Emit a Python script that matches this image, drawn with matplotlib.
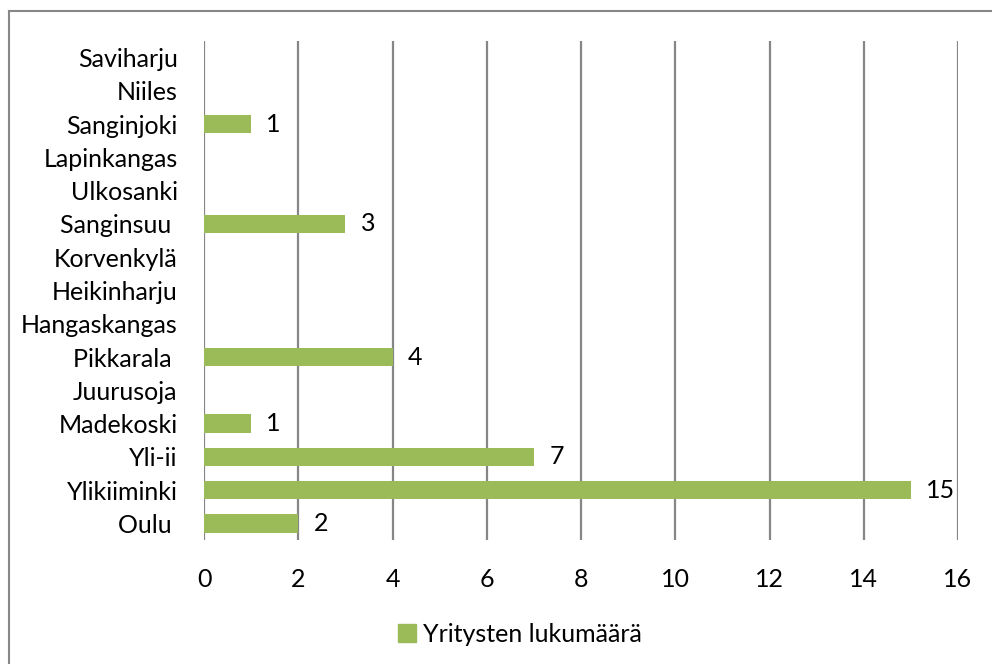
import matplotlib.pyplot as plt
from matplotlib.lines import Line2D

# ---------------------- Data ----------------------
villages = ["Oulu ", "Ylikiiminki", "Yli-ii", "Madekoski", "Juurusoja",
            "Pikkarala ", "Hangaskangas", "Heikinharju", "Korvenkylä",
            "Sanginsuu ", "Ulkosanki", "Lapinkangas", "Sanginjoki",
            "Niiles", "Saviharju"]
counts = [2, 15, 7, 1, 0, 4, 0, 0, 0, 3, 0, 0, 1, 0, 0]
series_name = "Yritysten lukumäärä"
x_ticks = [0, 2, 4, 6, 8, 10, 12, 14, 16]

green = "#9BBB59"
grid_gray = "#868686"

plt.rcParams["font.family"] = ["Lato", "DejaVu Sans"]
fs = 18

fig = plt.figure(figsize=(9.92, 6.64), dpi=100)
ax = fig.add_axes([204 / 992, 1 - 540 / 664, (958 - 204) / 992, (540 - 41) / 664])

pos = list(range(len(villages)))
ax.barh(pos, counts, height=0.55, color=green, zorder=3)

for p, c in zip(pos, counts):
    if c > 0:
        ax.annotate(str(c), (c, p), xytext=(11, 0), textcoords="offset points",
                    ha="left", va="center", fontsize=fs, color="black")

ax.set_xlim(0, 16)
ax.set_ylim(-0.5, len(villages) - 0.5)
ax.set_xticks(x_ticks)
ax.set_yticks(pos)
ax.set_yticklabels(villages)
ax.tick_params(axis="both", length=0, labelsize=fs)
ax.tick_params(axis="y", pad=19)
ax.tick_params(axis="x", pad=20)
ax.xaxis.grid(True, color=grid_gray, linewidth=1.6, zorder=0)
for s in ax.spines.values():
    s.set_visible(False)

# outer chart border (top and left visible in the crop)
fig.add_artist(Line2D([9 / 992, 9 / 992], [0, 1 - 11 / 664], transform=fig.transFigure,
                      color="#878787", linewidth=1.5))
fig.add_artist(Line2D([9 / 992, 1], [1 - 11 / 664, 1 - 11 / 664], transform=fig.transFigure,
                      color="#878787", linewidth=1.5))

handle = plt.Rectangle((0, 0), 1, 1, color=green)
fig.legend([handle], [series_name], loc="center", bbox_to_anchor=(520 / 992, 1 - 634 / 664),
           frameon=False, fontsize=fs, handlelength=0.7, handleheight=0.7, handletextpad=0.3)

fig.savefig("out.png", dpi=100)
